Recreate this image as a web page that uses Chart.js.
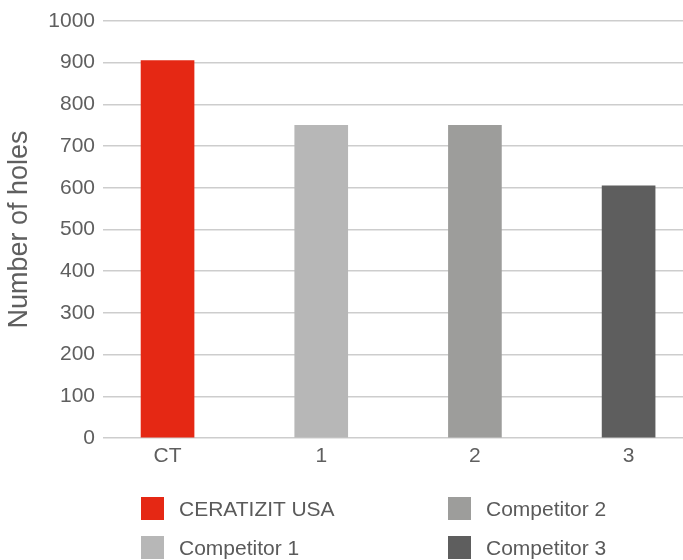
<!DOCTYPE html>
<html>
<head>
<meta charset="utf-8">
<script src="https://cdn.jsdelivr.net/npm/chart.js@4"></script>
<style>
    body { margin: 0; background: #fff; overflow: hidden; }
    #wrap { position: relative; width: 683px; height: 560px; }
    #legend { position: absolute; left: 0; top: 0; width: 683px; height: 560px; pointer-events: none; }
    .item { position: absolute; display: flex; align-items: center; font-family: "Liberation Sans", Arial, sans-serif; font-size: 21px; color: #5a5a5a; }
    .box { width: 23px; height: 23px; margin-right: 15px; }
</style>
</head>
<body>
<div id="wrap">
    <canvas id="chart" width="683" height="470"></canvas>
    <div id="legend"></div>
</div>
<script>
const categories = ["CT", "1", "2", "3"];
const seriesNames = ["CERATIZIT USA", "Competitor 1", "Competitor 2", "Competitor 3"];
const holes = [905, 750, 750, 605];
const colors = ["#e52814", "#b7b7b7", "#9d9d9b", "#5e5e5e"];
const yTicks = [0, 100, 200, 300, 400, 500, 600, 700, 800, 900, 1000];

const font = "'Liberation Sans', Arial, sans-serif";

// legend order in the picture: two columns, read row by row
const legendOrder = [0, 2, 1, 3];
const legendSlots = [[141, 497], [448, 497], [141, 536], [448, 536]];

const legendEl = document.getElementById("legend");
legendOrder.forEach((idx, n) => {
    const item = document.createElement("div");
    item.className = "item";
    item.style.left = legendSlots[n][0] + "px";
    item.style.top = legendSlots[n][1] + "px";
    item.style.height = "23px";
    const box = document.createElement("div");
    box.className = "box";
    box.style.background = colors[idx];
    const label = document.createElement("span");
    label.textContent = seriesNames[idx];
    item.appendChild(box);
    item.appendChild(label);
    legendEl.appendChild(item);
});

const ctx = document.getElementById("chart").getContext("2d");
new Chart(ctx, {
    type: "bar",
    data: {
        datasets: [{
            label: "Number of holes",
            data: holes.map((v, i) => ({ x: i, y: v })),
            backgroundColor: colors,
            borderWidth: 0,
            barThickness: 53
        }]
    },
    options: {
        responsive: false,
        animation: false,
        layout: { padding: { top: 21, right: 0, bottom: 0, left: 0 } },
        plugins: {
            legend: { display: false },
            tooltip: { enabled: false }
        },
        scales: {
            x: {
                type: "linear",
                offset: false,
                min: -0.42,
                max: 3.354,
                grid: { display: false },
                border: { display: false },
                afterFit: (scale) => { scale.height = 32; },
                ticks: {
                    stepSize: 1,
                    includeBounds: false,
                    autoSkip: false,
                    maxRotation: 0,
                    padding: -2,
                    color: "#5f5f5f",
                    font: { family: font, size: 21 },
                    callback: (v) => Number.isInteger(v) && categories[v] !== undefined ? categories[v] : ""
                }
            },
            y: {
                min: 0,
                max: 1000,
                afterFit: (scale) => { scale.width = 103; },
                afterBuildTicks: (scale) => { scale.ticks = yTicks.map(v => ({ value: v })); },
                grid: { color: "#cdcdcd", lineWidth: 1.5, drawTicks: false },
                border: { display: false },
                ticks: {
                    padding: 8,
                    color: "#5f5f5f",
                    font: { family: font, size: 21 },
                    callback: (v) => String(v)
                },
                title: {
                    display: true,
                    text: "Number of holes",
                    color: "#5f5f5f",
                    padding: { top: 3, bottom: 2 },
                    font: { family: font, size: 27 }
                }
            }
        }
    }
});
</script>
</body>
</html>
